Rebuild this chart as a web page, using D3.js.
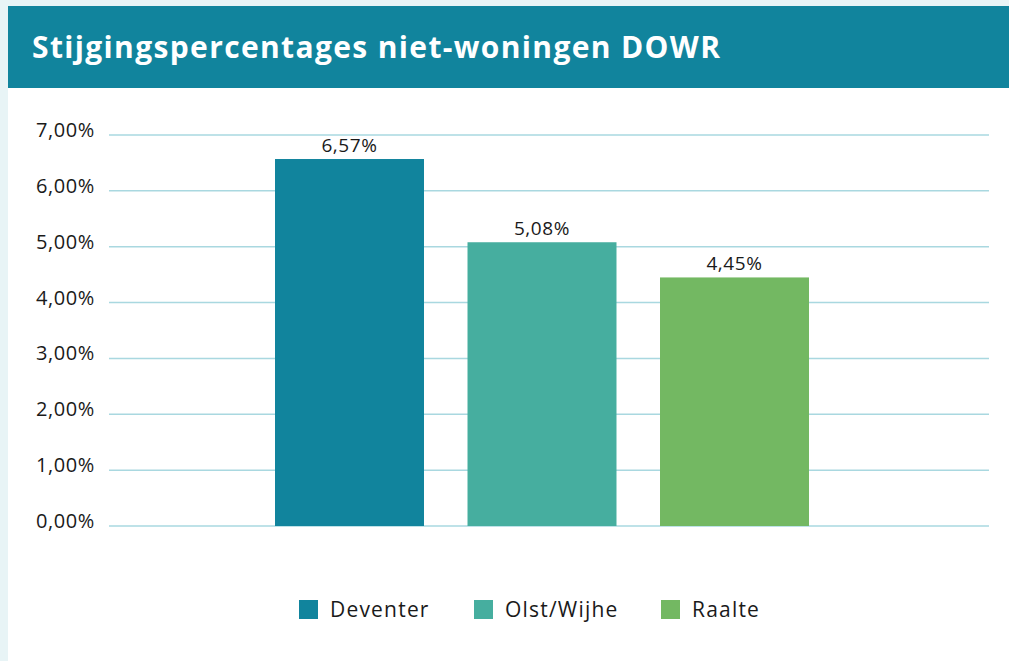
<!DOCTYPE html>
<html>
<head>
<meta charset="utf-8">
<script src="https://cdn.jsdelivr.net/npm/d3@7"></script>
<style>
  body { margin: 0; background: #e8f4f6; }
  svg { display: block; }
</style>
</head>
<body>
<svg id="chart" width="1009" height="661"></svg>
<script>
const categories = ["Deventer", "Olst/Wijhe", "Raalte"]
const values = [6.57, 5.08, 4.45]
const colors = ["#11849d", "#46ae9f", "#73b862"]
const tickValues = [0, 1, 2, 3, 4, 5, 6, 7]
const title = "Stijgingspercentages niet-woningen DOWR"

const fmt = v => d3.format(".2f")(v).replace(".", ",") + "%"

const svg = d3.select('#chart')

// page background + header band
svg.append("rect")
    .attr("x", 8).attr("y", 6)
    .attr("width", 1001).attr("height", 655)
    .attr("fill", "white")

svg.append("rect")
    .attr("x", 8).attr("y", 6)
    .attr("width", 1001).attr("height", 82)
    .attr("fill", "#11849d")

svg.append("text")
    .attr("x", 32).attr("y", 58)
    .attr("font-family", "'Open Sans', sans-serif")
    .attr("font-weight", "bold")
    .attr("font-size", "30px")
    .attr("textLength", 688)
    .attr("lengthAdjust", "spacing")
    .attr("fill", "white")
    .text(title)

const y = d3.scaleLinear()
    .domain([0, 7])
    .range([526, 135])

const x = d3.scaleBand()
    .domain(categories)
    .range([253.25, 830.75])
    .paddingInner(0.226)
    .paddingOuter(0.113)

// gridlines
svg.append("g")
    .selectAll("line")
    .data(tickValues)
    .join("line")
    .attr("x1", 109).attr("x2", 989)
    .attr("y1", d => y(d)).attr("y2", d => y(d))
    .attr("stroke", "#a9d8e0")
    .attr("stroke-width", 1.5)

// y tick labels
svg.append("g")
    .selectAll("text")
    .data(tickValues)
    .join("text")
    .attr("x", 95)
    .attr("y", d => y(d) + 2)
    .attr("text-anchor", "end")
    .attr("font-family", "'Open Sans', sans-serif")
    .attr("font-size", "20px")
    .attr("letter-spacing", "0.6px")
    .attr("fill", "#1a1a1a")
    .text(d => fmt(d))

// bars
svg.append("g")
    .selectAll("rect")
    .data(categories)
    .join("rect")
    .attr("x", d => x(d))
    .attr("y", (d, i) => y(values[i]))
    .attr("width", x.bandwidth())
    .attr("height", (d, i) => y(0) - y(values[i]))
    .attr("fill", (d, i) => colors[i])

// value labels
svg.append("g")
    .selectAll("text")
    .data(categories)
    .join("text")
    .attr("x", d => x(d) + x.bandwidth() / 2)
    .attr("y", (d, i) => y(values[i]) - 7)
    .attr("text-anchor", "middle")
    .attr("font-family", "'Open Sans', sans-serif")
    .attr("font-size", "19px")
    .attr("letter-spacing", "0.6px")
    .attr("fill", "#1a1a1a")
    .text((d, i) => fmt(values[i]))

// legend
const legendX = [299, 474, 661]
const legend = svg.append("g")
    .selectAll("g")
    .data(categories)
    .join("g")
    .attr("transform", (d, i) => `translate(${legendX[i]},600)`)

legend.append("rect")
    .attr("width", 19).attr("height", 19)
    .attr("fill", (d, i) => colors[i])

legend.append("text")
    .attr("x", 31).attr("y", 17)
    .attr("font-family", "'Open Sans', sans-serif")
    .attr("font-size", "21px")
    .attr("letter-spacing", "1.2px")
    .attr("fill", "#1a1a1a")
    .text(d => d)
</script>
</body>
</html>
